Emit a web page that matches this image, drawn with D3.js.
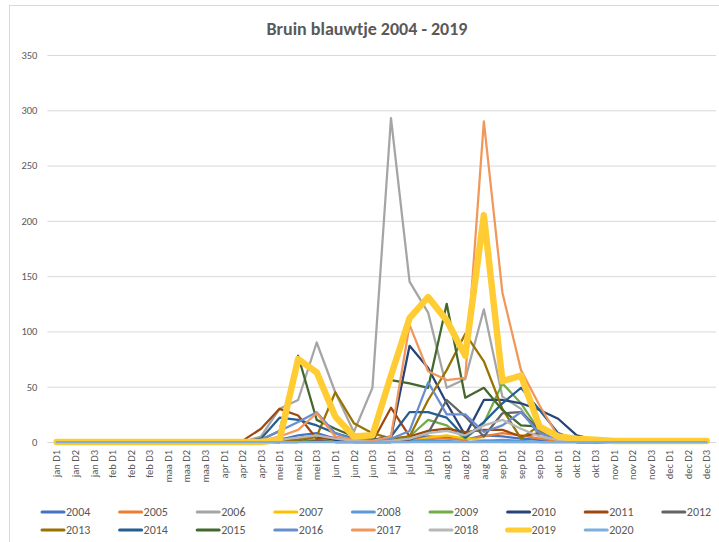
<!DOCTYPE html>
<html>
<head>
<meta charset="utf-8">
<script src="https://cdn.jsdelivr.net/npm/d3@7"></script>
<style>
  body { margin: 0; background: #fff; }
  text { font-family: Carlito, Calibri, Lato, "Open Sans", sans-serif; }
</style>
</head>
<body>
<div id="chart"></div>
<script>
// Bruin blauwtje - counts per decade (D1/D2/D3) of each month

const categories = [
  'jan D1', 'jan D2', 'jan D3', 'feb D1', 'feb D2', 'feb D3',
  'maa D1', 'maa D2', 'maa D3', 'apr D1', 'apr D2', 'apr D3',
  'mei D1', 'mei D2', 'mei D3', 'jun D1', 'jun D2', 'jun D3',
  'jul D1', 'jul D2', 'jul D3', 'aug D1', 'aug D2', 'aug D3',
  'sep D1', 'sep D2', 'sep D3', 'okt D1', 'okt D2', 'okt D3',
  'nov D1', 'nov D2', 'nov D3', 'dec D1', 'dec D2', 'dec D3'
];

const years = ['2004', '2005', '2006', '2007', '2008', '2009', '2010', '2011', '2012',
               '2013', '2014', '2015', '2016', '2017', '2018', '2019', '2020'];

const yTicks = [0, 50, 100, 150, 200, 250, 300, 350];

const v2004 = [0,0,0,0,0,0,0,0,0,0,0,0, 2,6,8,3,1,0, 1,3,5,4,2,6, 5,3,2,1,0,0, 0,0,0,0,0,0];
const v2005 = [0,0,0,0,0,0,0,0,0,0,0,0, 0,2,4,1,0,0, 0,2,4,3,2,5, 8,6,3,1,0,0, 0,0,0,0,0,0];
const v2006 = [0,0,0,0,0,0,0,0,0,0,0,5, 30,38,90,45,9,49, 293,145,117,49,57,120, 41,30,5,2,1,0, 0,0,0,0,0,0];
const v2007 = [0,0,0,0,0,0,0,0,0,0,0,0, 0,0,3,1,0,0, 0,0,4,6,3,2, 0,0,0,0,0,0, 0,0,0,0,0,0];
const v2008 = [0,0,0,0,0,0,0,0,0,0,0,0, 0,1,2,0,0,0, 0,1,2,1,0,1, 2,1,0,0,0,0, 0,0,0,0,0,0];
const v2009 = [0,0,0,0,0,0,0,0,0,0,0,0, 0,1,2,3,1,0, 2,5,20,15,3,17, 53,35,10,2,0,0, 0,0,0,0,0,0];
const v2010 = [0,0,0,0,0,0,0,0,0,0,0,0, 3,2,5,2,0,1, 4,87,67,35,6,38, 38,35,29,21,6,2, 0,0,0,0,0,0];
const v2011 = [0,0,0,0,0,0,0,0,0,0,1,12, 30,24,3,4,2,0, 31,5,10,12,9,11, 11,5,8,3,1,0, 0,0,0,0,0,0];
const v2012 = [0,0,0,0,0,0,0,0,0,0,0,0, 0,0,1,0,0,0, 0,2,8,38,23,5, 26,27,11,3,1,0, 0,0,0,0,0,0];
const v2013 = [0,0,0,0,0,0,0,0,0,0,0,0, 0,2,5,45,17,8, 3,5,38,65,98,73, 30,3,15,2,0,0, 0,0,0,0,0,0];
const v2014 = [0,0,0,0,0,0,0,0,0,0,0,3, 22,20,15,8,3,2, 5,27,27,22,4,18, 35,49,29,8,2,0, 0,0,0,0,0,0];
const v2015 = [0,0,0,0,0,0,0,0,0,0,0,2, 10,78,20,12,5,2, 56,53,49,125,40,49, 29,15,14,3,1,0, 0,0,0,0,0,0];
const v2016 = [0,0,0,0,0,0,0,0,0,0,0,2, 10,18,27,8,2,1, 3,10,54,25,25,9, 15,27,8,3,1,0, 0,0,0,0,0,0];
const v2017 = [0,0,0,0,0,0,0,0,0,0,0,1, 5,11,26,5,2,1, 5,106,64,56,58,290, 135,65,33,5,2,0, 0,0,0,0,0,0];
const v2018 = [0,0,0,0,0,0,0,0,0,0,0,0, 2,4,6,3,1,0, 1,3,8,10,6,15, 20,12,5,2,1,0, 0,0,0,0,0,0];
const v2019 = [0,0,0,0,0,0,0,0,0,0,0,0, 2,75,63,23,5,6, 60,112,131,110,78,205, 55,60,14,5,3,2, 1,1,1,1,1,1];
const v2020 = [0,0,0,0,0,0,0,0,0,0,0,0, 0,0,0,0,0,0, 0,0,0,0,0,0, 0,0,0,0,0,0, 0,0,0,0,0,0];

const seriesValues = [v2004, v2005, v2006, v2007, v2008, v2009, v2010, v2011, v2012,
                      v2013, v2014, v2015, v2016, v2017, v2018, v2019, v2020];

const colors = ['#4472C4', '#ED7D31', '#A5A5A5', '#FFC000', '#5B9BD5', '#70AD47', '#264478', '#9E480E', '#636363',
                '#997300', '#255E91', '#43682B', '#698ED0', '#F1975A', '#B7B7B7', '#FFCD33', '#7CAFDD'];

const width = 719, height = 542;
const margin = { left: 47.4, right: 3, top: 55, bottom: 100 };
const plotRight = width - margin.right;
const plotBottom = height - margin.bottom;

const svg = d3.select('#chart')
  .append('svg')
  .attr('width', width)
  .attr('height', height);

svg.append('rect')
  .attr('x', 0).attr('y', 0)
  .attr('width', width).attr('height', height)
  .attr('fill', '#fff');

// chart border
svg.append('rect')
  .attr('x', 9.5).attr('y', 5.5)
  .attr('width', 712).attr('height', 540)
  .attr('fill', 'none')
  .attr('stroke', '#D9D9D9')
  .attr('stroke-width', 1);

const x = d3.scaleBand()
  .domain(categories)
  .range([margin.left, plotRight]);

const y = d3.scaleLinear()
  .domain([0, 350])
  .range([plotBottom, margin.top]);

// gridlines + y labels
const yAxis = d3.axisLeft(y)
  .tickValues(yTicks)
  .tickSize(-(plotRight - margin.left))
  .tickPadding(10);

const gy = svg.append('g')
  .attr('transform', `translate(${margin.left},0)`)
  .call(yAxis);
gy.select('.domain').remove();
gy.selectAll('.tick line')
  .attr('stroke', '#D9D9D9')
  .attr('stroke-width', 1);
gy.selectAll('.tick text')
  .attr('fill', '#595959')
  .attr('font-size', 10.5);

// category axis
const xAxis = d3.axisBottom(x).tickSize(0).tickPadding(0);
const gx = svg.append('g')
  .attr('transform', `translate(0,${plotBottom})`)
  .call(xAxis);
gx.select('.domain')
  .attr('stroke', '#D9D9D9');
gx.selectAll('.tick text')
  .attr('fill', '#595959')
  .attr('font-size', 10.5)
  .attr('text-anchor', 'end')
  .attr('transform', 'rotate(-90)')
  .attr('x', -8)
  .attr('y', 0)
  .attr('dy', '0.35em');

// lines
const line = d3.line()
  .x((d, i) => x(categories[i]) + x.bandwidth() / 2)
  .y(d => y(d));

const lineG = svg.append('g');
seriesValues.forEach((vals, k) => {
  lineG.append('path')
    .datum(vals)
    .attr('d', line)
    .attr('fill', 'none')
    .attr('stroke', colors[k])
    .attr('stroke-width', years[k] === '2019' ? 6.5 : 2.25)
    .attr('stroke-linejoin', 'round')
    .attr('stroke-linecap', 'round');
});

// title
svg.append('text')
  .attr('x', 367)
  .attr('y', 35)
  .attr('text-anchor', 'middle')
  .attr('font-size', 18)
  .attr('font-weight', 'bold')
  .attr('fill', '#595959')
  .text('Bruin blauwtje 2004 - 2019');

// legend
const legend = svg.append('g');
years.forEach((yr, k) => {
  const col = k % 9, row = Math.floor(k / 9);
  const lx = 42 + col * 77.6, ly = 512 + row * 18;
  legend.append('line')
    .attr('x1', lx).attr('x2', lx + 22)
    .attr('y1', ly).attr('y2', ly)
    .attr('stroke', colors[k])
    .attr('stroke-width', yr === '2019' ? 5 : 3)
    .attr('stroke-linecap', 'round');
  legend.append('text')
    .attr('x', lx + 24)
    .attr('y', ly)
    .attr('dy', '0.35em')
    .attr('font-size', 12)
    .attr('fill', '#595959')
    .text(yr);
});
</script>
</body>
</html>
